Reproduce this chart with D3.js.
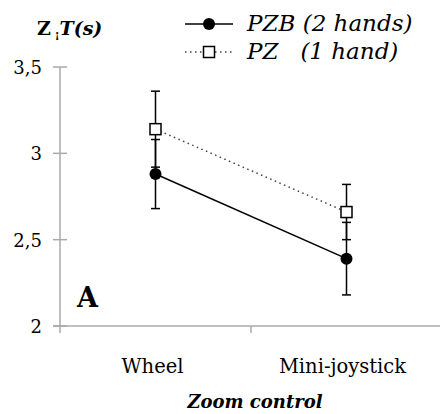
<!DOCTYPE html>
<html>
<head>
<meta charset="utf-8">
<script src="https://cdn.jsdelivr.net/npm/d3@7"></script>
<style>
  body { margin: 0; background: #fff; }
</style>
</head>
<body>
<div class="chart"></div>
<script>
const svgWidth = 440;
const svgHeight = 414;

const margin = { top: 67, right: -2, bottom: 88, left: 60 };
const width = svgWidth - margin.left - margin.right;
const height = svgHeight - margin.top - margin.bottom;

// data
const categories = ["Wheel", "Mini-joystick"];
const yTicks = [2, 2.5, 3, 3.5];
const yTickLabels = ["2", "2,5", "3", "3,5"];
const pzbMeans = [2.88, 2.39];
const pzbErrors = [0.2, 0.21];
const pzMeans = [3.14, 2.66];
const pzErrors = [0.22, 0.16];
const seriesNames = ["PZB (2 hands)", "PZ   (1 hand)"];

const serif = "DejaVu Serif";

const svg = d3.select(".chart")
  .append("svg")
  .attr("width", svgWidth)
  .attr("height", svgHeight)
  .style("font-family", serif);

const chartGroup = svg.append("g")
  .attr("transform", `translate(${margin.left}, ${margin.top})`);

// scales
const xScale = d3.scaleBand()
  .domain(categories)
  .range([0, width]);

const yScale = d3.scaleLinear()
  .domain([2, 3.5])
  .range([height, 0]);

const cx = d => xScale(d) + xScale.bandwidth() / 2;

// axes
const axisColor = "#aaa";
chartGroup.append("line")
  .attr("x1", 0).attr("x2", 0)
  .attr("y1", yScale(3.5)).attr("y2", height + 7)
  .attr("stroke", axisColor).attr("stroke-width", 1.5);
chartGroup.append("line")
  .attr("x1", -7).attr("x2", width)
  .attr("y1", height).attr("y2", height)
  .attr("stroke", axisColor).attr("stroke-width", 1.5);

chartGroup.selectAll(".ytick")
  .data(yTicks)
  .enter()
  .append("line")
  .attr("x1", -7).attr("x2", 7)
  .attr("y1", d => yScale(d)).attr("y2", d => yScale(d))
  .attr("stroke", axisColor).attr("stroke-width", 1.5);

chartGroup.selectAll(".ylabel")
  .data(yTicks)
  .enter()
  .append("text")
  .attr("x", -18)
  .attr("y", d => yScale(d) + 7)
  .attr("text-anchor", "end")
  .style("font-size", "18px")
  .text((d, i) => yTickLabels[i]);

// x tick between categories
chartGroup.selectAll(".xtick")
  .data(categories.slice(1))
  .enter()
  .append("line")
  .attr("x1", d => xScale(d)).attr("x2", d => xScale(d))
  .attr("y1", height).attr("y2", height + 7)
  .attr("stroke", axisColor).attr("stroke-width", 1.5);

chartGroup.selectAll(".xlabel")
  .data(categories)
  .enter()
  .append("text")
  .attr("x", (d, i) => cx(d) - (i === 0 ? 3 : 4))
  .attr("y", height + 47)
  .attr("text-anchor", "middle")
  .style("font-size", "19.5px")
  .text(d => d);

chartGroup.append("text")
  .attr("x", width / 2 + 4)
  .attr("y", height + 82)
  .attr("text-anchor", "middle")
  .style("font-size", "18px")
  .style("font-weight", "bold")
  .style("font-style", "italic")
  .text("Zoom control");

// y title
const yTitle = svg.append("text")
  .attr("x", 37)
  .attr("y", 35)
  .style("font-size", "19px")
  .style("font-weight", "bold");
yTitle.append("tspan").text("Z");
yTitle.append("tspan").attr("dy", 3).style("font-size", "11px").text(" ¡");
yTitle.append("tspan").attr("dy", -3).style("font-style", "italic").text("T(s)");

// panel letter
chartGroup.append("text")
  .attr("x", 17)
  .attr("y", yScale(2.11))
  .style("font-size", "27px")
  .style("font-weight", "bold")
  .text("A");

// lines
const line = d3.line()
  .x((d, i) => cx(categories[i]))
  .y(d => yScale(d));

chartGroup.append("path")
  .attr("d", line(pzMeans))
  .attr("fill", "none")
  .attr("stroke", "#444")
  .attr("stroke-width", 1.5)
  .attr("stroke-dasharray", "1.5,3.5");

chartGroup.append("path")
  .attr("d", line(pzbMeans))
  .attr("fill", "none")
  .attr("stroke", "#000")
  .attr("stroke-width", 1.5);

// error bars
function errorBars(means, errs) {
  const g = chartGroup.append("g");
  means.forEach((m, i) => {
    const x = cx(categories[i]);
    const lo = yScale(m - errs[i]);
    const hi = yScale(m + errs[i]);
    g.append("line").attr("x1", x).attr("x2", x).attr("y1", lo).attr("y2", hi)
      .attr("stroke", "#000").attr("stroke-width", 1.5);
    [lo, hi].forEach(y => {
      g.append("line").attr("x1", x - 4.5).attr("x2", x + 4.5).attr("y1", y).attr("y2", y)
        .attr("stroke", "#000").attr("stroke-width", 1.5);
    });
  });
}
errorBars(pzMeans, pzErrors);
errorBars(pzbMeans, pzbErrors);

// markers
chartGroup.selectAll(".pz")
  .data(pzMeans)
  .enter()
  .append("rect")
  .attr("x", (d, i) => cx(categories[i]) - 5.5)
  .attr("y", d => yScale(d) - 5.5)
  .attr("width", 11).attr("height", 11)
  .attr("fill", "#fff")
  .attr("stroke", "#000")
  .attr("stroke-width", 1.5);

chartGroup.selectAll(".pzb")
  .data(pzbMeans)
  .enter()
  .append("circle")
  .attr("cx", (d, i) => cx(categories[i]))
  .attr("cy", d => yScale(d))
  .attr("r", 6)
  .attr("fill", "#000");

// legend
const legend = svg.append("g");
legend.append("line")
  .attr("x1", 185).attr("x2", 233).attr("y1", 24).attr("y2", 24)
  .attr("stroke", "#000").attr("stroke-width", 1.5);
legend.append("circle")
  .attr("cx", 209).attr("cy", 24).attr("r", 6).attr("fill", "#000");
legend.append("line")
  .attr("x1", 185).attr("x2", 233).attr("y1", 52).attr("y2", 52)
  .attr("stroke", "#444").attr("stroke-width", 1.5)
  .attr("stroke-dasharray", "1.5,3.5");
legend.append("rect")
  .attr("x", 203.5).attr("y", 46.5).attr("width", 11).attr("height", 11)
  .attr("fill", "#fff").attr("stroke", "#000").attr("stroke-width", 1.5);
legend.selectAll(".ltext")
  .data(seriesNames)
  .enter()
  .append("text")
  .attr("x", 247)
  .attr("y", (d, i) => 31 + i * 28)
  .style("font-size", "23px")
  .style("font-style", "italic")
  .style("white-space", "pre")
  .text(d => d);
</script>
</body>
</html>
